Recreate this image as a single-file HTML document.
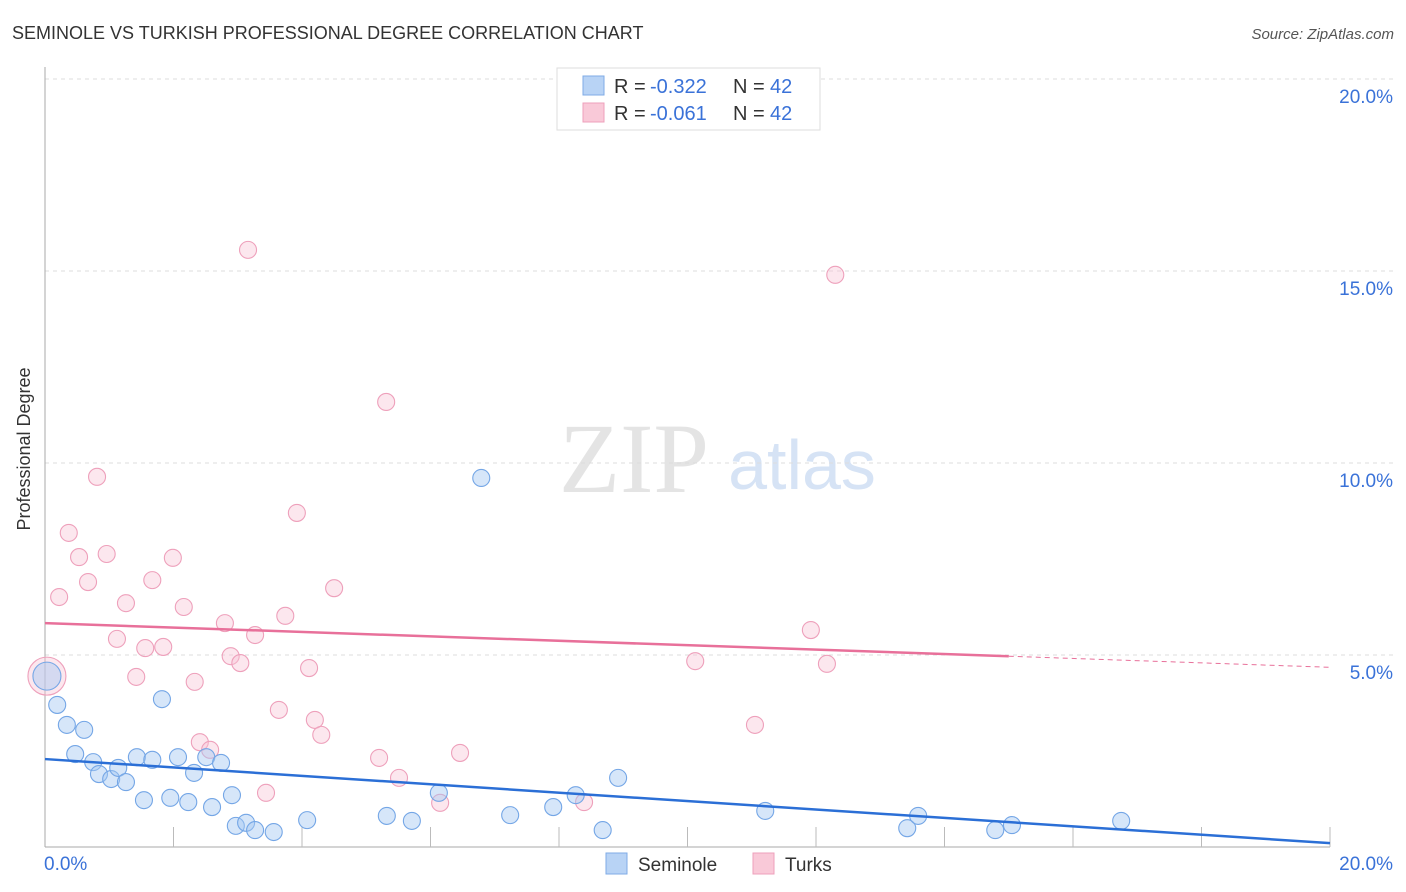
<!DOCTYPE html>
<html><head><meta charset="utf-8"><style>
body{margin:0;background:#fff;font-family:"Liberation Sans",sans-serif}
svg{display:block}
</style></head><body>
<svg id="chart" width="1406" height="892">
<text x="12" y="39" font-size="18" fill="#333">SEMINOLE VS TURKISH PROFESSIONAL DEGREE CORRELATION CHART</text>
<text x="1394" y="39" font-size="15" fill="#555" text-anchor="end" font-style="italic">Source: ZipAtlas.com</text>
<text x="37" y="456" font-size="18" fill="#333" text-anchor="middle" transform="rotate(-90 30 456)">Professional Degree</text>
<g><text x="634" y="492" font-size="100" font-family="Liberation Serif,serif" fill="#e4e4e4" text-anchor="middle">ZIP</text><text x="802" y="489" font-size="70" fill="#d6e3f5" text-anchor="middle">atlas</text></g>
<g id="grid"></g><g id="axes"></g><g id="marks"></g>
<g>
<rect x="557" y="68" width="263" height="62" fill="#fff" stroke="#ddd"/>
<rect x="583" y="76" width="21" height="19" fill="#b8d3f5" stroke="#7fabe6"/>
<text x="614" y="93" font-size="20" fill="#333">R =</text><text x="650" y="93" font-size="20" fill="#3a72d8">-0.322</text><text x="733" y="93" font-size="20" fill="#333">N =</text><text x="770" y="93" font-size="20" fill="#3a72d8">42</text>
<rect x="583" y="103" width="21" height="19" fill="#f9c9d8" stroke="#eea0bb"/>
<text x="614" y="120" font-size="20" fill="#333">R =</text><text x="650" y="120" font-size="20" fill="#3a72d8">-0.061</text><text x="733" y="120" font-size="20" fill="#333">N =</text><text x="770" y="120" font-size="20" fill="#3a72d8">42</text>
</g>
<g>
<rect x="606" y="853" width="21" height="21" fill="#b8d3f5" stroke="#7fabe6"/><text x="638" y="871" font-size="19" fill="#333">Seminole</text>
<rect x="753" y="853" width="21" height="21" fill="#f9c9d8" stroke="#eea0bb"/><text x="785" y="871" font-size="19" fill="#333">Turks</text>
</g>
</svg>
<script>
const yTicks=[5,10,15,20];
const yTickLabels=["5.0%","10.0%","15.0%","20.0%"];
const xTickLabels=["0.0%","20.0%"];
const semX=[0.03,0.19,0.34,0.61,0.47,0.75,0.84,1.03,1.14,1.26,1.43,1.67,1.54,1.95,2.07,2.23,2.32,2.51,2.60,2.74,2.91,2.97,3.13,3.27,3.56,4.08,5.32,5.71,6.13,6.79,7.24,7.91,8.26,8.68,8.92,11.21,13.42,13.59,14.79,15.05,16.75,1.82];
const semY=[4.45,3.70,3.18,3.05,2.42,2.21,1.90,1.77,2.06,1.69,2.34,2.27,1.22,1.28,2.34,1.17,1.93,2.34,1.04,2.19,1.35,0.55,0.63,0.44,0.39,0.70,0.81,0.68,1.41,9.61,0.83,1.04,1.35,0.44,1.80,0.94,0.49,0.81,0.44,0.57,0.68,3.85];
const turX=[0.03,0.22,0.37,0.53,0.67,0.81,0.96,1.12,1.26,1.42,1.56,1.67,1.84,1.99,2.16,2.33,2.41,2.57,2.80,2.89,3.04,3.16,3.27,3.64,3.74,3.92,4.11,4.20,4.30,4.50,5.20,5.31,5.51,6.15,6.46,8.39,10.12,11.05,11.92,12.17,12.30,3.44];
const turY=[4.45,6.51,8.18,7.55,6.90,9.64,7.63,5.42,6.35,4.43,5.18,6.95,5.21,7.53,6.25,4.30,2.73,2.53,5.83,4.97,4.79,15.55,5.52,3.57,6.02,8.70,4.66,3.31,2.92,6.74,2.32,11.59,1.80,1.15,2.45,1.17,4.84,3.18,5.65,4.77,14.90,1.41];
const semTrend=[2.29,0.10];
const turTrend=[5.83,4.68];
const NS="http://www.w3.org/2000/svg";
const X=v=>45+v*64.25, Y=v=>847-v*38.4;
function mk(p,t,a){const e=document.createElementNS(NS,t);for(const k in a)e.setAttribute(k,a[k]);p.appendChild(e);return e;}
const grid=document.getElementById('grid'),axes=document.getElementById('axes'),marks=document.getElementById('marks');
yTicks.forEach((t,i)=>{
 const l=mk(grid,'line',{x1:45,x2:1394,y1:Y(t),y2:Y(t),stroke:'#ddd','stroke-dasharray':'4 4'});
 
 
 const tx=mk(axes,'text',{x:1393,y:Y(t)+24,'font-size':19,fill:'#3a72d8','text-anchor':'end'});tx.textContent=yTickLabels[i];
 
 
});
const ax=mk(axes,'line',{x1:45,x2:45,y1:67,y2:847,stroke:'#aaa'});


const bx=mk(axes,'line',{x1:45,x2:1330,y1:847,y2:847,stroke:'#aaa'});


for(let i=1;i<=10;i++){const t=mk(axes,'line',{x1:X(i*2),x2:X(i*2),y1:827,y2:847,stroke:'#bbb'});
 
 }
[[0,'start',44],[20,'end',1393]].forEach((d,i)=>{const t=mk(axes,'text',{x:d[2],y:870,'font-size':19,fill:'#3a72d8','text-anchor':d[1]});t.textContent=xTickLabels[i];
 
 });
function pts(xs,ys,fill,stroke,name,bigR){
 xs.forEach((x,i)=>{const c=mk(marks,'circle',{cx:X(x),cy:Y(ys[i]),r:i===0?bigR:8.5,fill:fill,stroke:stroke,'stroke-width':1.1});
 
 });
}
pts(turX,turY,'rgba(248,195,212,0.4)','#eea0bb','turks-point',19);
pts(semX,semY,'rgba(165,200,242,0.45)','#74a6e6','seminole-point',14);
const tp=t=>turTrend[0]+(turTrend[1]-turTrend[0])*t/20;
const l1=mk(marks,'line',{x1:X(0),y1:Y(tp(0)),x2:X(15),y2:Y(tp(15)),stroke:'#e8709a','stroke-width':2.5});


const l2=mk(marks,'line',{x1:X(15),y1:Y(tp(15)),x2:X(20),y2:Y(tp(20)),stroke:'#e8709a','stroke-width':1,'stroke-dasharray':'5 4'});


const l3=mk(marks,'line',{x1:X(0),y1:Y(semTrend[0]),x2:X(20),y2:Y(semTrend[1]),stroke:'#2b6fd6','stroke-width':2.5});


</script>
</body></html>
